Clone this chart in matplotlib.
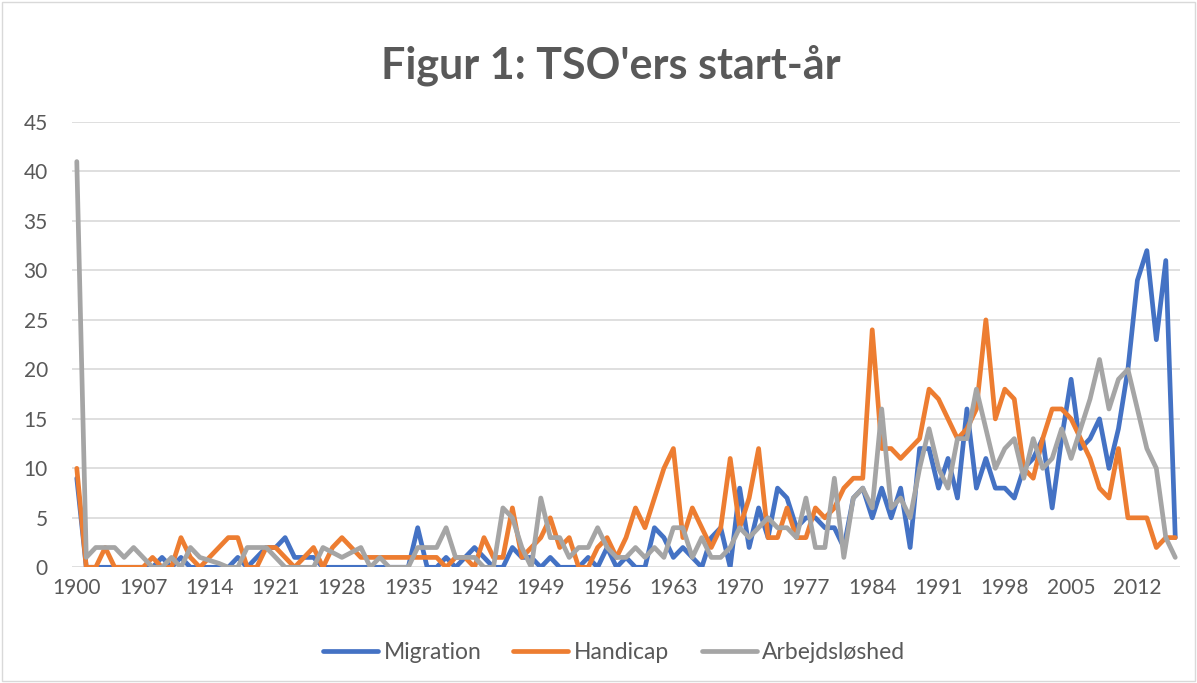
import matplotlib.pyplot as plt
from matplotlib.patches import Rectangle

years = list(range(1900, 2017))

migration = [9, 0, 0, 0, 0, 0, 0, 0, 0, 1, 0, 1, 0, 0, 0, 0, 0, 1, 0, 1,
             2, 2, 3, 1, 1, 1, 0, 0, 0, 0, 0, 0, 0, 0, 0, 0, 4, 0, 0, 1,
             0, 1, 2, 1, 0, 0, 2, 1, 1, 0, 1, 0, 0, 0, 1, 0, 2, 0, 1, 0,
             0, 4, 3, 1, 2, 1, 0, 3, 4, 0, 8, 2, 6, 3, 8, 7, 4, 5, 5, 4,
             4, 2, 7, 8, 5, 8, 5, 8, 2, 12, 12, 8, 11, 7, 16, 8, 11, 8, 8, 7,
             10, 11, 13, 6, 13, 19, 12, 13, 15, 10, 14, 20, 29, 32, 23, 31, 3]

handicap = [10, 0, 0, 2, 0, 0, 0, 0, 1, 0, 0, 3, 1, 0, 1, 2, 3, 3, 0, 0,
            2, 2, 1, 0, 1, 2, 0, 2, 3, 2, 1, 1, 1, 1, 1, 1, 1, 1, 1, 0,
            1, 1, 0, 3, 1, 1, 6, 1, 2, 3, 5, 2, 3, 0, 0, 2, 3, 1, 3, 6,
            4, 7, 10, 12, 3, 6, 4, 2, 4, 11, 4, 7, 12, 3, 3, 6, 3, 3, 6, 5,
            6, 8, 9, 9, 24, 12, 12, 11, 12, 13, 18, 17, 15, 13, 14, 16, 25, 15, 18, 17,
            10, 9, 13, 16, 16, 15, 13, 11, 8, 7, 12, 5, 5, 5, 2, 3, 3]

arbejdsloshed = [41, 1, 2, 2, 2, 1, 2, 1, 0, 0, 1, 0, 2, 1, 0.7, 0.4, 0, 0, 2, 2,
                 2, 1, 0, 0, 0, 0, 2, 1.5, 1, 1.5, 2, 0, 1, 0, 0, 0, 2, 2, 2, 4,
                 1, 1, 1, 0, 0, 6, 5, 2, 0, 7, 3, 3, 1, 2, 2, 4, 2, 1, 1, 2,
                 1, 2, 1, 4, 4, 1, 3, 1, 1, 2, 4, 3, 4, 5, 4, 4, 3, 7, 2, 2,
                 9, 1, 7, 8, 6, 16, 6, 7, 5, 10, 14, 10, 8, 13, 13, 18, 14, 10, 12, 13,
                 9, 13, 10, 11, 14, 11, 14, 17, 21, 16, 19, 20, 16, 12, 10, 3, 1]

series = [("Migration", migration, "#4472C4"),
          ("Handicap", handicap, "#ED7D31"),
          ("Arbejdsløshed", arbejdsloshed, "#A5A5A5")]

xticks = list(range(1900, 2013, 7))
yticks = list(range(0, 46, 5))

plt.rcParams['font.family'] = ['Lato', 'DejaVu Sans']
text_color = "#595959"

fig = plt.figure(figsize=(11.97, 6.83), dpi=100)
fig.patches.append(Rectangle((0.002, 0.003), 0.996, 0.994, transform=fig.transFigure,
                             fill=False, edgecolor="#D9D9D9", linewidth=1))
ax = fig.add_axes([0.0602, 0.1694, 0.9256, 0.652])

for name, vals, color in series:
    ax.plot(years, vals, color=color, linewidth=3.4, label=name,
            solid_joinstyle='round', solid_capstyle='round')

ax.set_xlim(1899.5, 2016.5)
ax.set_ylim(0, 45)
ax.set_xticks(xticks)
ax.set_yticks(yticks)
ax.tick_params(axis='both', length=0, labelsize=15, colors=text_color)
ax.tick_params(axis='x', pad=8)
ax.tick_params(axis='y', pad=17.5)
for lab in ax.get_yticklabels():
    lab.set_horizontalalignment('right')
ax.grid(axis='y', color="#D9D9D9", linewidth=1.2)
ax.set_axisbelow(True)
for s in ax.spines.values():
    s.set_visible(False)

fig.text(0.51, 0.905, "Figur 1: TSO'ers start-år", ha='center', va='center',
         fontsize=31, fontweight='bold', color=text_color)

leg = fig.legend(loc='center', bbox_to_anchor=(0.513, 0.044), ncol=3, frameon=False,
                 fontsize=16.5, handlelength=2.4, handletextpad=0.25, columnspacing=1.4)
for t in leg.get_texts():
    t.set_color(text_color)

fig.savefig("out.png", dpi=100)
